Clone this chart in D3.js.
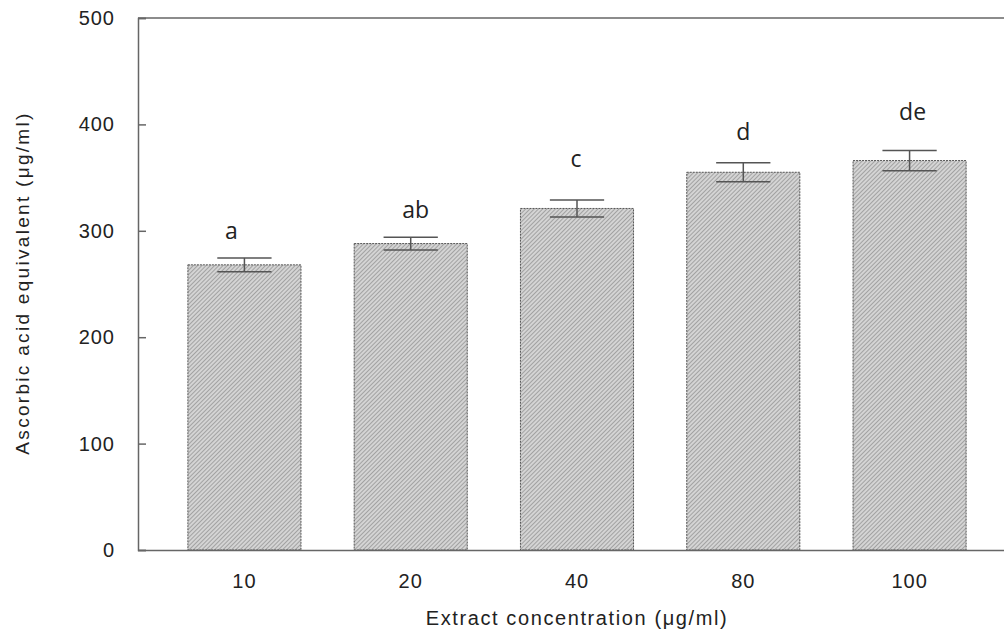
<!DOCTYPE html>
<html><head><meta charset="utf-8">
<script src="https://cdn.jsdelivr.net/npm/d3@7"></script>
<style>body{margin:0;background:#fff;} svg{display:block;}</style>
</head><body>
<svg id="c" width="1004" height="636"></svg>
<script>
const categories = ["10", "20", "40", "80", "100"];
const values = [268, 288, 321, 355, 366];
const errors = [6.5, 6, 8, 9, 9.5];
const letters = ["a", "ab", "c", "d", "de"];
const yTicks = [0, 100, 200, 300, 400, 500];

(function () {
const svg = d3.select("#c");
const mLeft = 138, mRight = 1016, mTop = 18, mBottom = 550;
const x = d3.scaleBand().domain(categories).range([mLeft, mRight]).paddingInner(0.32).paddingOuter(0.3);
const y = d3.scaleLinear().domain([0, 500]).range([mBottom, mTop]);
const font = "Arial, 'Liberation Sans', sans-serif";

const defs = svg.append("defs");
const pat = defs.append("pattern").attr("id", "hatch").attr("patternUnits", "userSpaceOnUse")
  .attr("width", 3).attr("height", 3).attr("patternTransform", "rotate(45)");
pat.append("rect").attr("width", 3).attr("height", 3).attr("fill", "#d4d4d4");
pat.append("rect").attr("width", 1).attr("height", 3).attr("fill", "#a2a2a2");

// frame top line
svg.append("line").attr("x1", mLeft).attr("x2", 1004).attr("y1", mTop).attr("y2", mTop)
  .attr("stroke", "#666").attr("stroke-width", 1.5);

// bars
svg.selectAll("rect.bar").data(values).join("rect").attr("class", "bar")
  .attr("x", (d, i) => x(categories[i])).attr("width", x.bandwidth())
  .attr("y", d => y(d)).attr("height", d => y(0) - y(d))
  .attr("fill", "url(#hatch)").attr("stroke", "#555").attr("stroke-width", 1)
  .attr("stroke-dasharray", "2,1");

// error bars
const capW = x.bandwidth() * 0.48;
const eg = svg.append("g").attr("stroke", "#555").attr("stroke-width", 1.5);
values.forEach((v, i) => {
  const cx = x(categories[i]) + x.bandwidth() / 2;
  eg.append("line").attr("x1", cx).attr("x2", cx).attr("y1", y(v + errors[i])).attr("y2", y(v - errors[i]));
  eg.append("line").attr("x1", cx - capW / 2).attr("x2", cx + capW / 2).attr("y1", y(v + errors[i])).attr("y2", y(v + errors[i]));
  eg.append("line").attr("x1", cx - capW / 2).attr("x2", cx + capW / 2).attr("y1", y(v - errors[i])).attr("y2", y(v - errors[i]));
});

// significance letters (small per-label nudges in px)
const nudgeX = [-13, 5, -1, 0, 3];
const nudgeY = [-19, -19, -33, -23, -30];
svg.selectAll("text.sig").data(letters).join("text").attr("class", "sig")
  .attr("x", (d, i) => x(categories[i]) + x.bandwidth() / 2 + nudgeX[i])
  .attr("y", (d, i) => y(values[i] + errors[i]) + nudgeY[i])
  .attr("text-anchor", "middle").attr("font-family", "'Open Sans', 'Noto Sans', sans-serif")
  .attr("font-size", 23).attr("fill", "#222").text(d => d);

// y axis
const yAxis = svg.append("g").attr("transform", `translate(${mLeft},0)`)
  .call(d3.axisLeft(y).tickValues(yTicks).tickSize(-8).tickPadding(23).tickFormat(d3.format("d")));
yAxis.select(".domain").attr("stroke", "#666").attr("stroke-width", 1.5);
yAxis.selectAll(".tick line").attr("stroke", "#666").attr("stroke-width", 1.5);
yAxis.selectAll(".tick text").attr("font-family", font)
  .attr("font-size", 20).attr("letter-spacing", 1).attr("fill", "#222");

// x axis
const xAxis = svg.append("g").attr("transform", `translate(0,${mBottom})`)
  .call(d3.axisBottom(x).tickSize(0).tickPadding(24));
xAxis.select(".domain").attr("stroke", "#666").attr("stroke-width", 1.5)
  .attr("d", `M${mLeft},0.5H1004`);
xAxis.selectAll(".tick text").attr("font-family", font)
  .attr("font-size", 20).attr("letter-spacing", 1).attr("fill", "#222");

// titles
svg.append("text").attr("x", 577).attr("y", 625).attr("text-anchor", "middle")
  .attr("font-family", font).attr("font-size", 20).attr("letter-spacing", 1.6).attr("fill", "#222")
  .text("Extract concentration (μg/ml)");
svg.append("text").attr("transform", "translate(29,283) rotate(-90)").attr("text-anchor", "middle")
  .attr("font-family", font).attr("font-size", 19).attr("letter-spacing", 2.3).attr("fill", "#222")
  .text("Ascorbic acid equivalent (μg/ml)");
})();
</script>
</body></html>
